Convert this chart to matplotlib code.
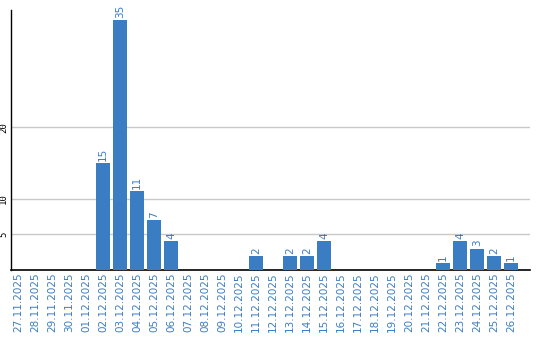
import matplotlib
matplotlib.use("Agg")
import matplotlib.pyplot as plt

# daily counts
dates = ["27.11.2025", "28.11.2025", "29.11.2025", "30.11.2025", "01.12.2025",
         "02.12.2025", "03.12.2025", "04.12.2025", "05.12.2025", "06.12.2025",
         "07.12.2025", "08.12.2025", "09.12.2025", "10.12.2025", "11.12.2025",
         "12.12.2025", "13.12.2025", "14.12.2025", "15.12.2025", "16.12.2025",
         "17.12.2025", "18.12.2025", "19.12.2025", "20.12.2025", "21.12.2025",
         "22.12.2025", "23.12.2025", "24.12.2025", "25.12.2025", "26.12.2025"]
counts = [0, 0, 0, 0, 0,
          15, 35, 11, 7, 4,
          0, 0, 0, 0, 2,
          0, 2, 2, 4, 0,
          0, 0, 0, 0, 0,
          1, 4, 3, 2, 1]
yticks = [5, 10, 20]

blue = '#3b7dc2'

fig = plt.figure(figsize=(5.4, 3.4), dpi=100)
ax = fig.add_axes([11/540, 1 - 270/340, (530 - 11)/540, 260/340])

x = list(range(len(dates)))
ax.bar(x, counts, width=0.82, color=blue, zorder=3)

for xi, v in zip(x, counts):
  if v > 0:
    ax.text(xi, v + 0.3, str(v), rotation=90, ha='center', va='bottom',
            color=blue, fontsize=7.5, zorder=4)

ax.set_xlim(-0.41, 30.12)
ax.set_ylim(0, 36.4)
ax.set_xticks(x)
ax.set_xticklabels(dates, rotation=90, color=blue, fontsize=7.5)
ax.set_yticks(yticks)
ax.set_yticklabels([str(t) for t in yticks], rotation=90, va='center',
                   fontsize=6.5, family='DejaVu Sans Mono')
ax.tick_params(length=0, pad=2)
ax.tick_params(axis='x', pad=2)
ax.grid(axis='y', color='#c8c8c8', linewidth=1, zorder=0)

for s in ['top', 'right']:
  ax.spines[s].set_visible(False)
ax.spines['left'].set_linewidth(1.0)
ax.spines['bottom'].set_linewidth(1.2)

fig.savefig('out.png', dpi=100)
